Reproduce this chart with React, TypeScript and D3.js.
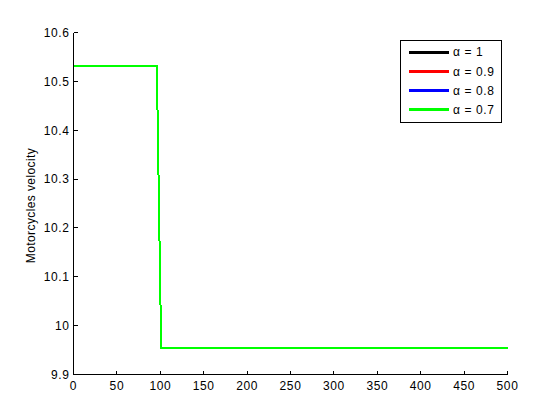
import React from "react";
import * as d3 from "d3";

const timeSteps = [0, 96, 97, 98, 99, 100, 101, 500];
const alpha1 = [10.532, 10.532, 10.417, 10.302, 10.186, 10.071, 9.955, 9.955];
const alpha09 = [10.532, 10.532, 10.417, 10.302, 10.186, 10.071, 9.955, 9.955];
const alpha08 = [10.532, 10.532, 10.417, 10.302, 10.186, 10.071, 9.955, 9.955];
const alpha07 = [10.532, 10.532, 10.417, 10.302, 10.186, 10.071, 9.955, 9.955];
const seriesLabels = ["α = 1", "α = 0.9", "α = 0.8", "α = 0.7"];
const seriesColors = ["#000000", "#ff0000", "#0000ff", "#00ff00"];
const xTicks = [0, 50, 100, 150, 200, 250, 300, 350, 400, 450, 500];
const yTicks = [9.9, 10, 10.1, 10.2, 10.3, 10.4, 10.5, 10.6];

export default function App() {
  const W = 560, H = 420;
  const left = 73.5, right = 507.5, top = 32.5, bottom = 374.5;
  const x = d3.scaleLinear().domain([0, 500]).range([left, right]);
  const y = d3.scaleLinear().domain([9.9, 10.6]).range([bottom, top]);
  const allSeries = [alpha1, alpha09, alpha08, alpha07];
  const line = d3
    .line<number>()
    .x((_, i) => x(timeSteps[i]))
    .y((v) => y(v));
  const font = "'Liberation Sans', Arial, Helvetica, sans-serif";
  const lx = 400.5, ly = 40.5, lw = 101, lh = 82;
  return (
    <svg
      width={W}
      height={H}
      style={{ position: "absolute", left: 0, top: 0, background: "#fff" }}
      fontFamily={font}
    >
      <rect x={0} y={0} width={W} height={H} fill="#fff" />
      {allSeries.map((s, k) => (
        <path
          key={k}
          d={line(s) || ""}
          fill="none"
          stroke={seriesColors[k]}
          strokeWidth={2}
          shapeRendering="crispEdges"
        />
      ))}
      {/* axes */}
      <g shapeRendering="crispEdges">
        <line x1={left} x2={left} y1={top} y2={bottom} stroke="#000" strokeWidth={1} />
        <line x1={left} x2={right} y1={bottom} y2={bottom} stroke="#000" strokeWidth={1} />
        {xTicks.map((t) => (
          <line key={"xt" + t} x1={x(t)} x2={x(t)} y1={bottom} y2={bottom - 4} stroke="#000" />
        ))}
        {yTicks.map((t) => (
          <line key={"yt" + t} x1={left} x2={left + 4} y1={y(t)} y2={y(t)} stroke="#000" />
        ))}
      </g>
      {xTicks.map((t) => (
        <text key={"x" + t} x={x(t)} y={bottom + 15} textAnchor="middle" fontSize={12} letterSpacing={0.6}>
          {t}
        </text>
      ))}
      {yTicks.map((t) => (
        <text key={"y" + t} x={left - 4} y={y(t) + 4.3} textAnchor="end" fontSize={12} letterSpacing={0.6}>
          {d3.format("~g")(t)}
        </text>
      ))}
      <text
        transform={`translate(35,${(top + bottom) / 2 + 2}) rotate(-90)`}
        textAnchor="middle"
        fontSize={12}
        letterSpacing={0.4}
      >
        Motorcycles velocity
      </text>
      {/* legend */}
      <rect x={lx} y={ly} width={lw} height={lh} fill="#fff" stroke="#000" strokeWidth={1} shapeRendering="crispEdges" />
      {seriesLabels.map((lab, k) => {
        const yy = ly + 11.5 + k * 19.3;
        return (
          <g key={lab}>
            <line x1={lx + 8} x2={lx + 48} y1={yy} y2={yy} stroke={seriesColors[k]} strokeWidth={3} shapeRendering="crispEdges" />
            <text x={lx + 52.5} y={yy + 4.3} fontSize={12} letterSpacing={0.6}>
              {lab}
            </text>
          </g>
        );
      })}
    </svg>
  );
}
